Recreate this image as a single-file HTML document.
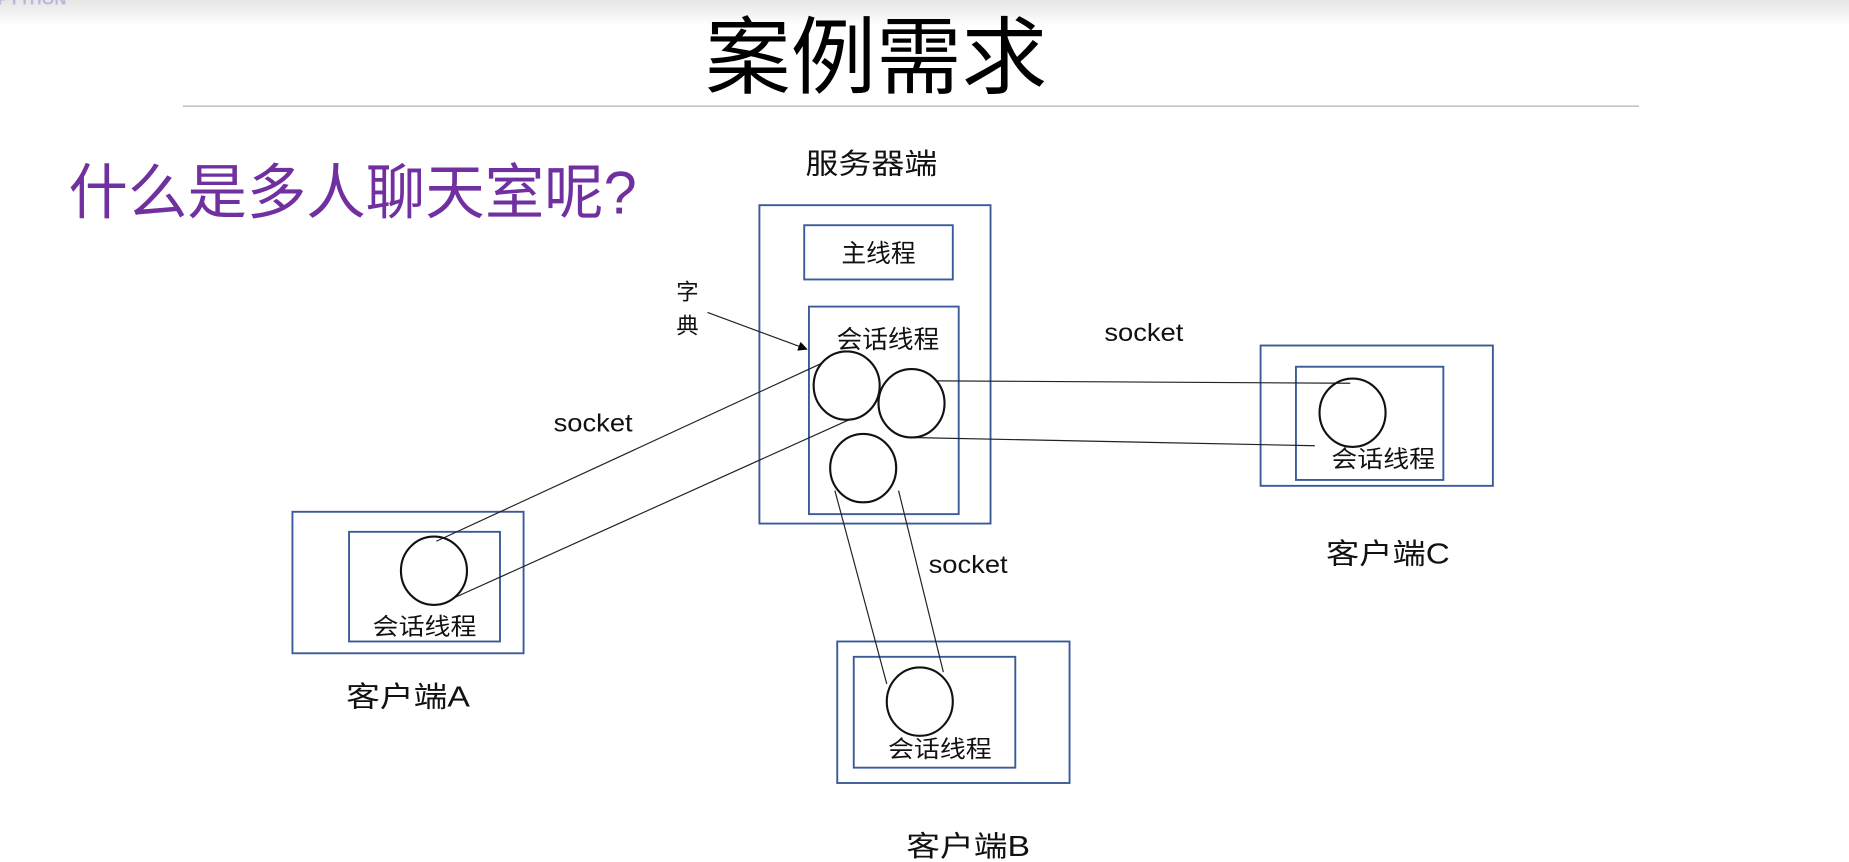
<!DOCTYPE html>
<html><head><meta charset="utf-8"><style>
html,body{margin:0;padding:0;background:#fff;width:1849px;height:862px;overflow:hidden}
svg{display:block}
text{font-family:"Liberation Sans","Noto Sans CJK SC",sans-serif}
</style></head><body>
<svg width="1849" height="862" viewBox="0 0 1568 731" preserveAspectRatio="none" xmlns="http://www.w3.org/2000/svg">
<defs><linearGradient id="g" x1="0" y1="0" x2="0" y2="1"><stop offset="0" stop-color="#e6e6e6"/><stop offset="1" stop-color="#ffffff"/></linearGradient>
<marker id="ar" markerWidth="8" markerHeight="8" refX="7" refY="4" orient="auto" markerUnits="userSpaceOnUse"><path d="M0,0 L8,4 L0,8 z" fill="#000"/></marker></defs>
<rect x="0" y="0" width="1568" height="22" fill="url(#g)"/>
<text x="-2" y="4" font-size="14" fill="#b8b8d8" font-weight="bold">PYTHON</text>
<text x="743" y="74" font-size="72" text-anchor="middle" fill="#000" textLength="290" lengthAdjust="spacingAndGlyphs">案例需求</text>
<line x1="155" y1="90" x2="1390" y2="90" stroke="#c8c8c8" stroke-width="1.5"/>
<text x="58" y="181" font-size="51" fill="#7030a0" textLength="482" lengthAdjust="spacingAndGlyphs">什么是多人聊天室呢?</text>
<text x="739" y="147" font-size="24" text-anchor="middle" fill="#111" textLength="112" lengthAdjust="spacingAndGlyphs">服务器端</text>
<g fill="none" stroke="#3a5a9a" stroke-width="1.6">
<rect x="644" y="174" width="196" height="270"/>
<rect x="682" y="191" width="126" height="46"/>
<rect x="686" y="260" width="127" height="176"/>
<rect x="248" y="434" width="196" height="120"/>
<rect x="296" y="451" width="128" height="93"/>
<rect x="1069" y="293" width="197" height="119"/>
<rect x="1099" y="311" width="125" height="96"/>
<rect x="710" y="544" width="197" height="120"/>
<rect x="724" y="557" width="137" height="94"/>
</g>
<text x="745" y="222" font-size="21" text-anchor="middle" fill="#111">主线程</text>
<text x="753" y="295" font-size="21" text-anchor="middle" fill="#111" textLength="87" lengthAdjust="spacingAndGlyphs">会话线程</text>
<text x="583" y="254" font-size="19" text-anchor="middle" fill="#111">字</text>
<text x="583" y="283" font-size="19" text-anchor="middle" fill="#111">典</text>
<line x1="600" y1="265" x2="684" y2="296" stroke="#222" stroke-width="1" marker-end="url(#ar)"/>
<g fill="none" stroke="#222" stroke-width="1">
<line x1="370" y1="459" x2="697" y2="308"/>
<line x1="385" y1="507" x2="720" y2="356"/>
<line x1="795" y1="323" x2="1145" y2="325"/>
<line x1="772" y1="371" x2="1115" y2="378"/>
<line x1="708" y1="416" x2="752" y2="580"/>
<line x1="762" y1="416" x2="800" y2="570"/>
</g>
<g fill="#fff" stroke="#111" stroke-width="1.8">
<ellipse cx="718" cy="327" rx="28" ry="29"/>
<ellipse cx="773" cy="342" rx="28" ry="29"/>
<ellipse cx="732" cy="397" rx="28" ry="29"/>
</g>
<g fill="none" stroke="#111" stroke-width="1.8">
<ellipse cx="368" cy="484" rx="28" ry="29"/>
<ellipse cx="1147" cy="350" rx="28" ry="29"/>
<ellipse cx="780" cy="595" rx="28" ry="29"/>
</g>
<text x="503" y="366" font-size="21" text-anchor="middle" fill="#111" textLength="67" lengthAdjust="spacingAndGlyphs">socket</text>
<text x="970" y="289" font-size="21" text-anchor="middle" fill="#111" textLength="67" lengthAdjust="spacingAndGlyphs">socket</text>
<text x="821" y="486" font-size="21" text-anchor="middle" fill="#111" textLength="67" lengthAdjust="spacingAndGlyphs">socket</text>
<text x="360" y="538" font-size="20" text-anchor="middle" fill="#111" textLength="88" lengthAdjust="spacingAndGlyphs">会话线程</text>
<text x="1173" y="396" font-size="20" text-anchor="middle" fill="#111" textLength="88" lengthAdjust="spacingAndGlyphs">会话线程</text>
<text x="797" y="642" font-size="20" text-anchor="middle" fill="#111" textLength="88" lengthAdjust="spacingAndGlyphs">会话线程</text>
<text x="346" y="599" font-size="24" text-anchor="middle" fill="#111" textLength="105" lengthAdjust="spacingAndGlyphs">客户端A</text>
<text x="1177" y="478" font-size="24" text-anchor="middle" fill="#111" textLength="105" lengthAdjust="spacingAndGlyphs">客户端C</text>
<text x="821" y="726" font-size="24" text-anchor="middle" fill="#111" textLength="105" lengthAdjust="spacingAndGlyphs">客户端B</text>
</svg>
</body></html>
